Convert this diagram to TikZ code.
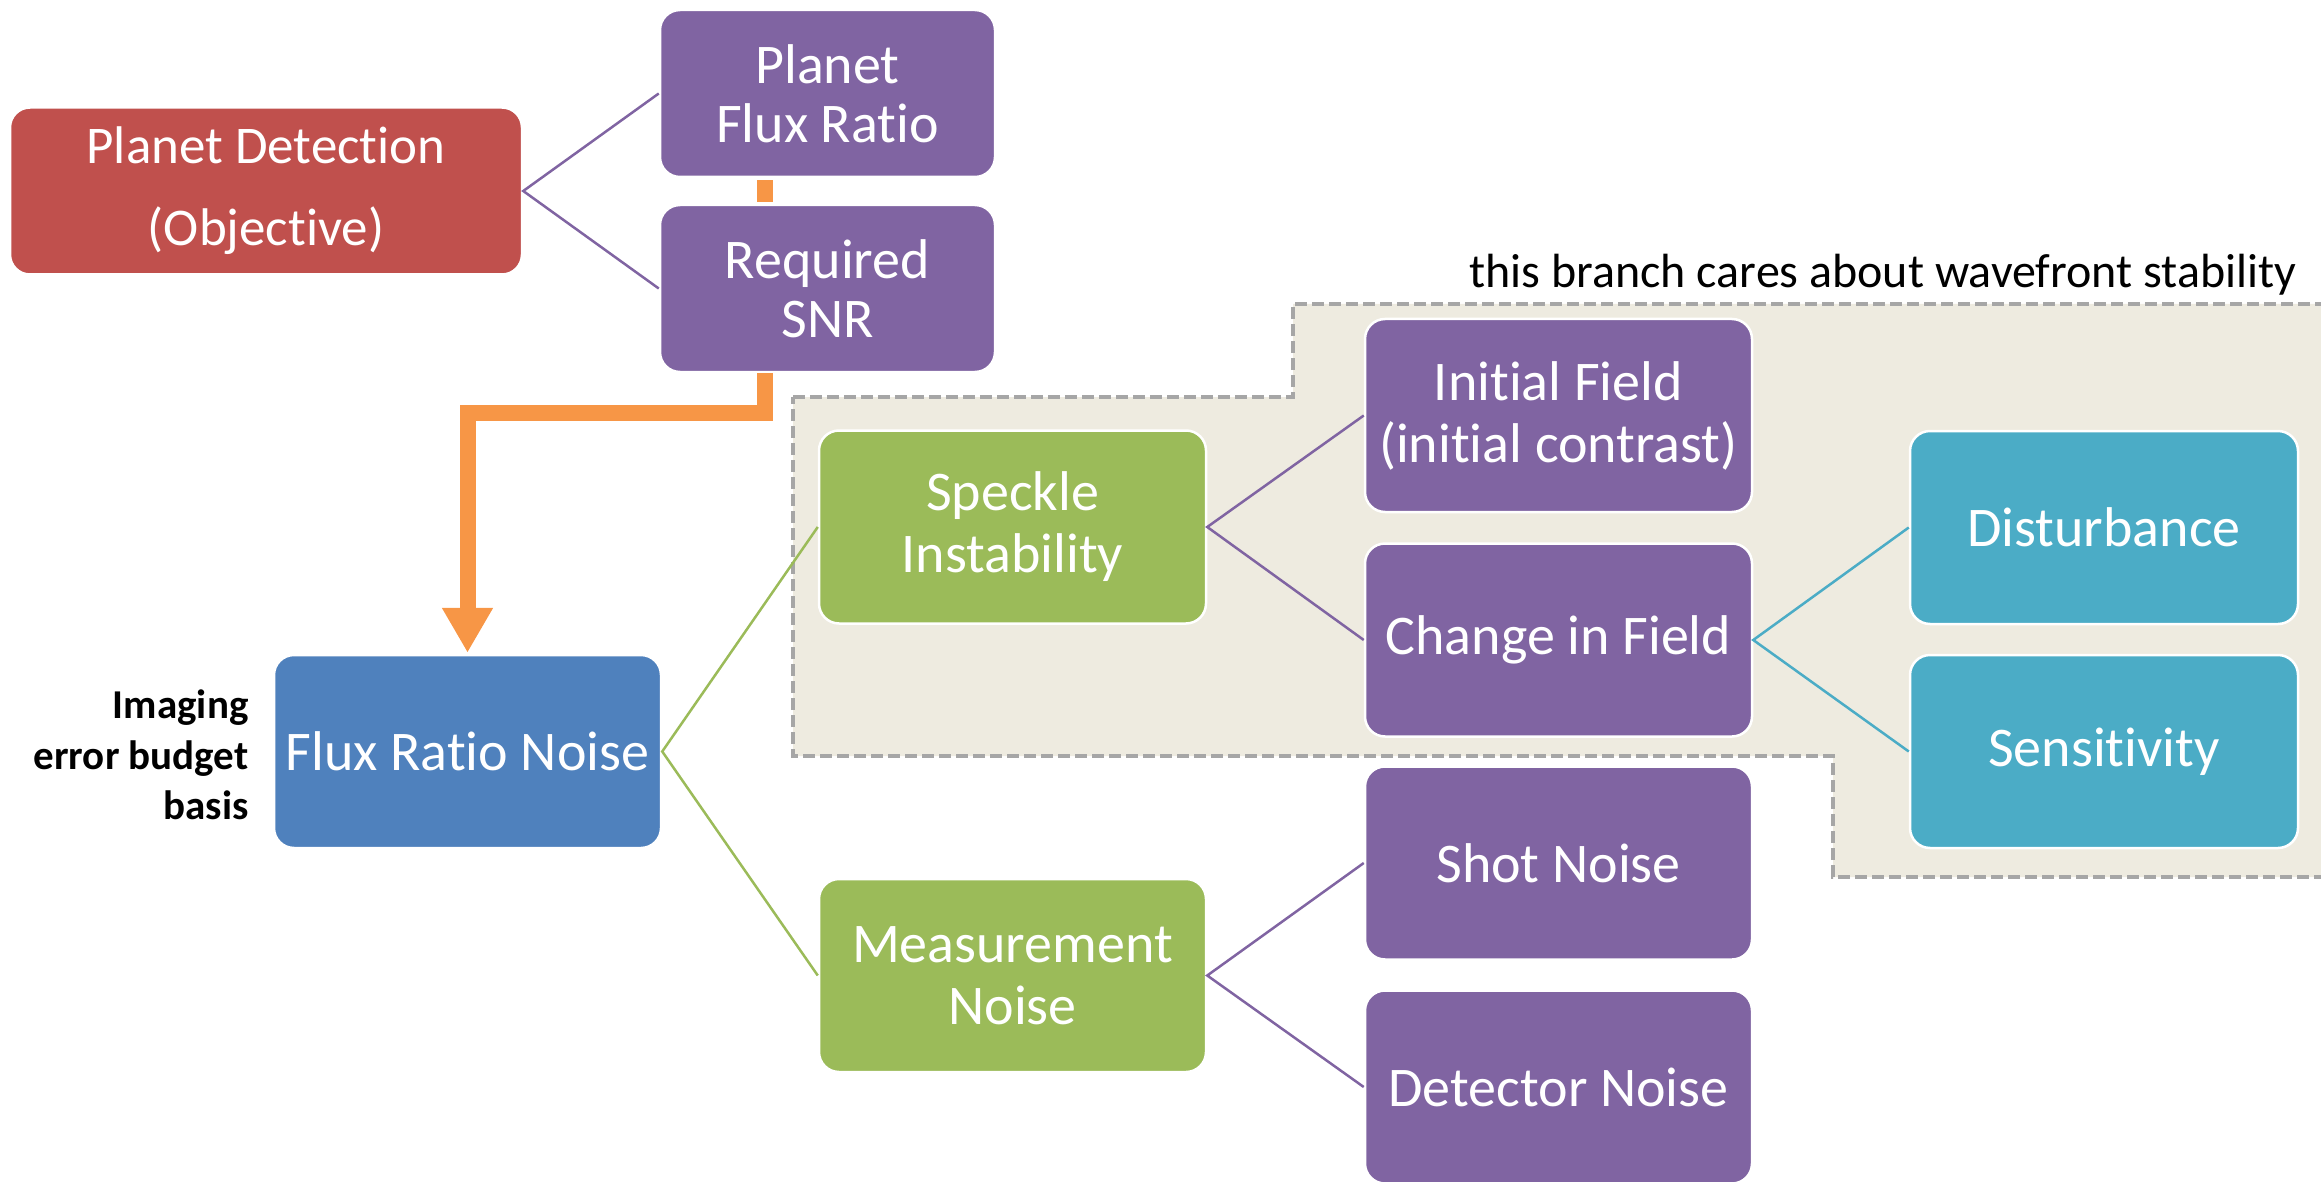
\documentclass[tikz,border=0pt]{standalone}
\usepackage{fontspec}
\setmainfont{Carlito}[Ligatures=NoCommon]
\usetikzlibrary{arrows.meta}

\definecolor{cRed}{HTML}{C0504D}
\definecolor{cPurple}{HTML}{8064A2}
\definecolor{cGreen}{HTML}{9BBB59}
\definecolor{cBlue}{HTML}{4F81BD}
\definecolor{cAqua}{HTML}{4BACC6}
\definecolor{cOrange}{HTML}{F79646}
\definecolor{cTan}{HTML}{EEEBE0}
\definecolor{cDash}{HTML}{A6A6A6}

\tikzset{
  box/.style={rounded corners=20pt, draw=white, line width=2.5pt,
    text=white, align=center, inner sep=0pt,
    font=\fontsize{56}{62}\selectfont},
  bsmall/.style={box, minimum width=335pt, minimum height=167pt,
    font=\fontsize{56}{59}\selectfont},
  bbig/.style={box, minimum width=387pt, minimum height=193pt},
  link/.style={line width=2.5pt},
  flow/.style={draw=cOrange, line width=16pt},
}

\begin{document}
\begin{tikzpicture}[x=1pt, y=-1pt]
  \useasboundingbox (0,0) rectangle (2321,1182);
  \clip (0,0) rectangle (2321,1182);

  % shaded region: the wavefront-stability branch
  \filldraw[fill=cTan, draw=cDash, line width=4pt, dash pattern=on 12pt off 5pt]
    (793,397) -- (1293,397) -- (1293,304) -- (2340,304) -- (2340,877)
    -- (1833,877) -- (1833,756) -- (793,756) -- cycle;

  \node[anchor=base west, font=\fontsize{48}{56}\selectfont] (cap) at (1466,288)
    {this branch cares about wavefront stability};

  % boxes
  \node[bsmall, fill=cRed, minimum width=512pt, font=\fontsize{53}{62}\selectfont]
    (pd) at (266,191) {Planet Detection\\[20pt](Objective)};
  \node[bsmall, fill=cPurple] (pfr) at (827.5,93.5) {Planet\\Flux Ratio};
  \node[bsmall, fill=cPurple] (snr) at (827.5,288.5) {Required\\SNR};
  \node[bbig, fill=cBlue] (frn) at (467.5,751.5) {Flux Ratio Noise};
  \node[bbig, fill=cGreen] (si) at (1012.5,527) {Speckle\\Instability};
  \node[bbig, fill=cGreen] (mn) at (1012.5,975.5) {Measurement\\Noise};
  \node[bbig, fill=cPurple] (inf) at (1558.5,415.5) {Initial Field\\(initial contrast)};
  \node[bbig, fill=cPurple] (cif) at (1558.5,640) {Change in Field};
  \node[bbig, fill=cAqua, minimum width=388pt] (dist) at (2104,527.5) {Disturbance};
  \node[bbig, fill=cAqua, minimum width=388pt] (sens) at (2104,751.5) {Sensitivity};
  \node[bbig, fill=cPurple] (shot) at (1558.5,863) {Shot Noise};
  \node[bbig, fill=cPurple] (det) at (1558.5,1087) {Detector Noise};

  \node[anchor=east, align=right, font=\bfseries\fontsize{41}{50.5}\selectfont]
    (lbl) at (252,755) {Imaging\\error budget\\basis};

  % tree connectors
  \draw[link, cPurple] (pfr.west) -- (pd.east) -- (snr.west);
  \draw[link, cGreen] (si.west) -- (frn.east) -- (mn.west);
  \draw[link, cPurple] (inf.west) -- (si.east) -- (cif.west);
  \draw[link, cAqua] (dist.west) -- (cif.east) -- (sens.west);
  \draw[link, cPurple] (shot.west) -- (mn.east) -- (det.west);

  % orange flow to the error budget basis
  \coordinate (bend) at (765,413);
  \draw[flow, shorten <=2pt, shorten >=2pt] (pfr.south -| bend) -- (snr.north -| bend);
  \draw[flow, -{Triangle[width=48pt, length=45pt]}, shorten >=1pt]
    (snr.south -| bend) -- (bend) -| (frn.north);
\end{tikzpicture}
\end{document}
